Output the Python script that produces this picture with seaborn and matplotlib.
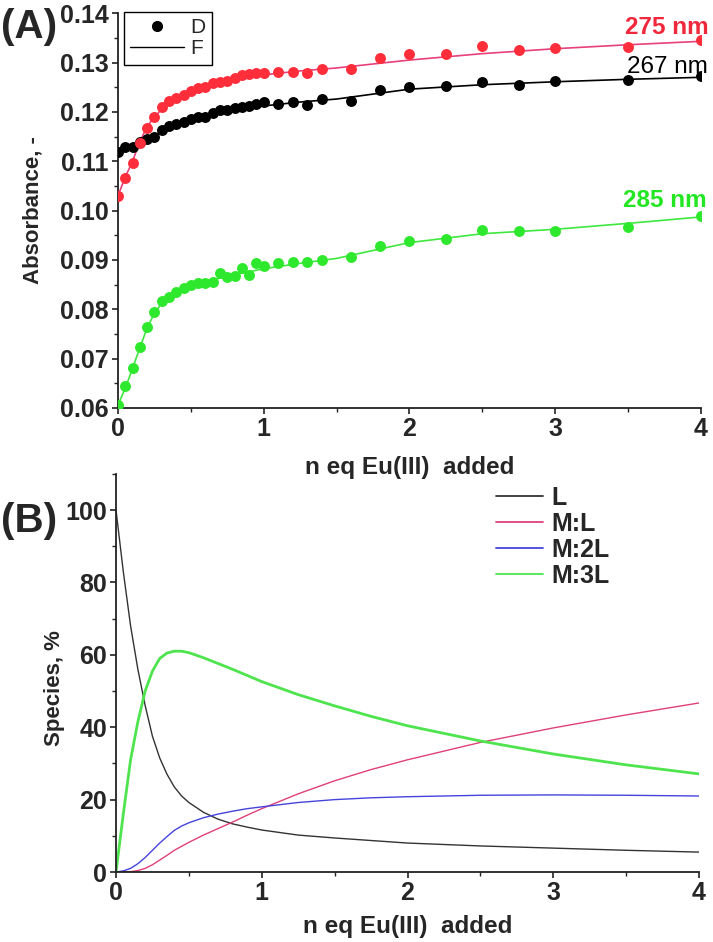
import numpy as np
import pandas as pd
import matplotlib
matplotlib.use("Agg")
import matplotlib.pyplot as plt
from matplotlib.lines import Line2D
from matplotlib.ticker import MultipleLocator
import seaborn as sns

# ---- panel A: absorbance titration data (D) and fits (F) ----
x_dense = [round(0.05 * i, 2) for i in range(21)]
x_tail = [1.1, 1.2, 1.3, 1.4, 1.6, 1.8, 2.0, 2.25, 2.5, 2.75, 3.0, 3.5, 4.0]
x_data = x_dense + x_tail

abs_267 = [0.1119, 0.1129, 0.1129, 0.1139, 0.1145, 0.1149, 0.1163, 0.1171, 0.1175, 0.1179, 0.1185,
           0.1189, 0.1189, 0.1198, 0.1204, 0.1204, 0.1208, 0.1210, 0.1212, 0.1216, 0.1220,
           0.1216, 0.1220, 0.1214, 0.1226, 0.1223, 0.1244, 0.1250, 0.1252, 0.1260, 0.1254, 0.1262, 0.1264, 0.1272]
abs_275 = [0.1030, 0.1066, 0.1096, 0.1137, 0.1167, 0.1189, 0.1210, 0.1222, 0.1228, 0.1235, 0.1242,
           0.1248, 0.1250, 0.1258, 0.1260, 0.1262, 0.1268, 0.1274, 0.1277, 0.1279, 0.1279,
           0.1281, 0.1281, 0.1279, 0.1287, 0.1287, 0.1309, 0.1317, 0.1317, 0.1333, 0.1325, 0.1329, 0.1331, 0.1345]
abs_285 = [0.0606, 0.0645, 0.0681, 0.0724, 0.0764, 0.0795, 0.0817, 0.0825, 0.0835, 0.0843, 0.0849,
           0.0853, 0.0853, 0.0855, 0.0874, 0.0866, 0.0868, 0.0884, 0.0870, 0.0894, 0.0888,
           0.0894, 0.0896, 0.0896, 0.0900, 0.0905, 0.0928, 0.0938, 0.0942, 0.0960, 0.0959, 0.0959, 0.0967, 0.0989]

x_fit = [0, 0.05, 0.1, 0.15, 0.2, 0.25, 0.3, 0.4, 0.5, 0.6, 0.8, 1.0, 1.25, 1.5, 2.0, 2.5, 3.0, 3.5, 4.0]
fit_267 = [0.1118, 0.1125, 0.1132, 0.1139, 0.1146, 0.1153, 0.1160, 0.1172, 0.1182, 0.1190, 0.1203,
           0.1212, 0.1220, 0.1226, 0.1246, 0.1255, 0.1261, 0.1266, 0.1270]
fit_275 = [0.1030, 0.1068, 0.1100, 0.1140, 0.1170, 0.1190, 0.1205, 0.1225, 0.1238, 0.1248, 0.1264,
           0.1275, 0.1283, 0.1289, 0.1305, 0.1318, 0.1328, 0.1336, 0.1343]
fit_285 = [0.0606, 0.0640, 0.0680, 0.0722, 0.0762, 0.0792, 0.0812, 0.0832, 0.0847, 0.0856, 0.0870,
           0.0882, 0.0893, 0.0903, 0.0935, 0.0953, 0.0962, 0.0974, 0.0987]

wavelengths = ["267 nm", "275 nm", "285 nm"]
point_colors = ["#000000", "#ff2e3a", "#2ee82e"]
fit_colors = ["#000000", "#e8407a", "#3ee83e"]
label_colors = ["#000000", "#f0283c", "#22e622"]

# ---- panel B: species distribution ----
x_sp = [0, 0.05, 0.1, 0.15, 0.2, 0.25, 0.3, 0.35, 0.4, 0.45, 0.5, 0.6, 0.7, 0.8, 0.9, 1.0, 1.25,
        1.5, 1.75, 2.0, 2.5, 3.0, 3.5, 4.0]
sp_L = [100, 83, 68, 56, 46, 37.5, 31.5, 27, 23.5, 21, 19.2, 16.5, 14.6, 13.3, 12.4, 11.6, 10.2,
        9.4, 8.7, 8.0, 7.2, 6.6, 6.0, 5.5]
sp_ML = [0, 0, 0.1, 0.4, 1.0, 2.0, 3.3, 4.6, 6.0, 7.1, 8.2, 10.2, 12.0, 13.8, 15.7, 17.5, 21.6,
         25.2, 28.3, 31.0, 35.8, 39.8, 43.4, 46.7]
sp_M2L = [0, 0.3, 1.0, 2.3, 4.0, 6.0, 8.0, 9.8, 11.5, 12.7, 13.6, 15.0, 16.0, 16.8, 17.5, 18.0, 19.2,
          20.0, 20.5, 20.8, 21.2, 21.3, 21.2, 21.0]
sp_M3L = [0, 16, 31, 41.5, 50, 55.5, 59, 60.5, 61, 61, 60.6, 59.2, 57.6, 56, 54.3, 52.6, 49,
          45.9, 43.0, 40.4, 36.2, 32.6, 29.6, 27.1]
species = ["L", "M:L", "M:2L", "M:3L"]
species_colors = ["#333333", "#e0407a", "#4444dd", "#4ee44e"]
species_widths = [1.0, 1.0, 1.0, 2.0]

sns.set_style("ticks")
plt.rcParams["font.family"] = ["Liberation Sans", "DejaVu Sans"]
plt.rcParams["font.weight"] = "bold"

fig = plt.figure(figsize=(7.13, 9.42), dpi=100)
ax1 = fig.add_axes([0.1655, 0.567, 0.8175, 0.419])
ax2 = fig.add_axes([0.1627, 0.0743, 0.8177, 0.4227])
ax2.set_facecolor("none")

# panel A
for i, wl in enumerate(wavelengths):
    ys = [abs_267, abs_275, abs_285][i]
    fs = [fit_267, fit_275, fit_285][i]
    sns.lineplot(x=x_fit, y=fs, ax=ax1, color=fit_colors[i], linewidth=1.2, zorder=2)
    sns.scatterplot(x=x_data, y=ys, ax=ax1, color=point_colors[i], s=62, linewidth=0, zorder=3)

ax1.text(4.05, 0.1371, "275 nm", color=label_colors[1], fontsize=17.5, fontweight="bold",
         ha="right", va="center")
ax1.text(4.05, 0.1291, "267 nm", color=label_colors[0], fontsize=17.5, fontweight="normal",
         ha="right", va="center")
ax1.text(4.04, 0.1021, "285 nm", color=label_colors[2], fontsize=17.5, fontweight="bold",
         ha="right", va="center")

ax1.set_xlim(0, 4)
ax1.set_ylim(0.06, 0.14)
ax1.yaxis.set_minor_locator(MultipleLocator(0.005))
ax1.xaxis.set_major_locator(MultipleLocator(1))
ax1.xaxis.set_minor_locator(MultipleLocator(0.5))
ax1.set_yticks([0.06, 0.07, 0.08, 0.09, 0.10, 0.11, 0.12, 0.13, 0.14])
ax1.set_yticklabels([f"{v:.2f}" for v in ax1.get_yticks()])
ax1.set_ylabel("Absorbance, -", fontsize=16, fontweight="bold")
ax1.yaxis.set_label_coords(-0.128, 0.5)
ax1.set_xlabel("n eq Eu(III)  added", fontsize=17.5, fontweight="bold", labelpad=11)

handles = [Line2D([], [], color="black", marker="o", linestyle="none", markersize=7),
           Line2D([], [], color="black", linewidth=1)]
leg = ax1.legend(handles, ["D", "F"], loc="upper left", bbox_to_anchor=(0.01, 1.003),
                 borderaxespad=0, frameon=True, fancybox=False, framealpha=1, edgecolor="black",
                 prop={"size": 15, "weight": "normal"}, handlelength=2.6, handletextpad=0.3,
                 labelspacing=0.1, borderpad=0.3, markerfirst=True)
leg.get_frame().set_linewidth(1.0)

# panel B
for name, ys, c, lw in zip(species, [sp_L, sp_ML, sp_M2L, sp_M3L], species_colors, species_widths):
    sns.lineplot(x=x_sp, y=ys, ax=ax2, color=c, linewidth=lw, label=name)

ax2.set_xlim(0, 4)
ax2.set_ylim(0, 110)
ax2.yaxis.set_minor_locator(MultipleLocator(10))
ax2.xaxis.set_major_locator(MultipleLocator(1))
ax2.xaxis.set_minor_locator(MultipleLocator(0.5))
ax2.set_yticks([0, 20, 40, 60, 80, 100])
ax2.set_ylabel("Species, %", fontsize=16, fontweight="bold")
ax2.yaxis.set_label_coords(-0.0875, 0.462)
ax2.set_xlabel("n eq Eu(III)  added", fontsize=17.5, fontweight="bold", labelpad=7)
leg2 = ax2.legend(loc="upper left", bbox_to_anchor=(0.613, 1.027), frameon=False,
                  prop={"size": 18, "weight": "bold"}, handlelength=1.9, handletextpad=0.3,
                  labelspacing=0.08)
for line in leg2.get_lines():
    line.set_linewidth(1.3)

for ax in (ax1, ax2):
    sns.despine(ax=ax)
    for side in ("left", "bottom"):
        ax.spines[side].set_linewidth(1.3)
        ax.spines[side].set_color("#222222")
    ax.tick_params(which="major", direction="out", length=4.5, width=1.2, color="#222222",
                   labelsize=18, pad=2)
    ax.tick_params(which="minor", direction="out", length=3, width=1.0, color="#222222")
    for lab in ax.get_xticklabels() + ax.get_yticklabels():
        lab.set_fontweight("bold")

fig.text(0.002, 0.971, "(A)", fontsize=29, fontweight="bold", va="center", ha="left")
fig.text(0.002, 0.447, "(B)", fontsize=29, fontweight="bold", va="center", ha="left")

fig.savefig("out.png", dpi=100)
